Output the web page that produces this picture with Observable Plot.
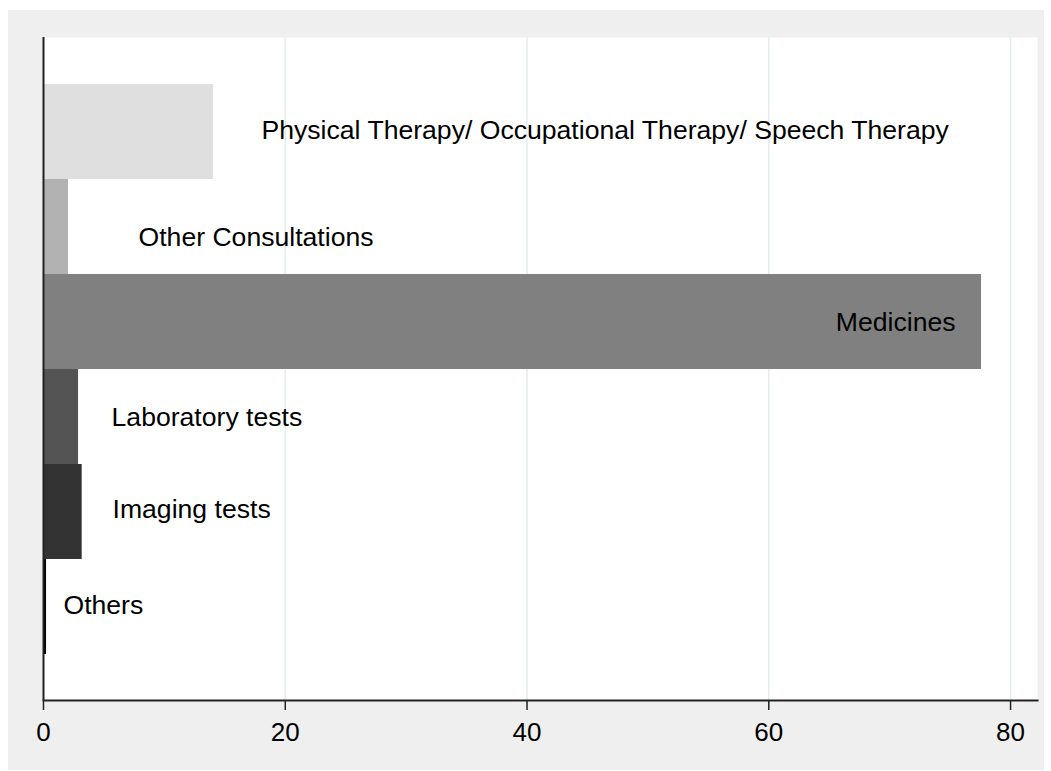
<!DOCTYPE html>
<html>
<head>
<meta charset="utf-8">
<script src="https://cdn.jsdelivr.net/npm/d3@7"></script>
<script src="https://cdn.jsdelivr.net/npm/@observablehq/plot@0.6"></script>
<style>
  body { margin: 0; background: #ffffff; }
  #chart { position: absolute; left: 8px; top: 10px; }
  #chart svg { display: block; background: #efefef; }
</style>
</head>
<body>
<div id="chart"></div>
<script>
// ---- data ----
const categories = [
  "Physical Therapy/ Occupational Therapy/ Speech Therapy",
  "Other Consultations",
  "Medicines",
  "Laboratory tests",
  "Imaging tests",
  "Others"
];
const values = [14.06, 2.07, 77.6, 2.9, 3.2, 0.25];
// label anchor positions along the x axis (data units)
const labelX = [18.03, 7.86, 75.45, 5.63, 5.71, 1.65];
const xTicks = [0, 20, 40, 60, 80];

const rows = categories.map((c, i) => ({category: c, value: values[i], lx: labelX[i]}));

const font = "'Liberation Sans', Arial, Helvetica, sans-serif";
const labelDy = {"Other Consultations": 10, "Imaging tests": -3, "Physical Therapy/ Occupational Therapy/ Speech Therapy": -2, "Others": -2};
const endAnchored = new Set(["Medicines"]);

const textMarks = rows.map(r => Plot.text([r], {
  x: "lx", y: "category", text: "category",
  textAnchor: endAnchored.has(r.category) ? "end" : "start",
  dy: labelDy[r.category] || 0,
  fill: "black", fontSize: 26.6
}));

const chart = Plot.plot({
  width: 1036,
  height: 760,
  marginLeft: 35,
  marginRight: 7,
  marginTop: 27,
  marginBottom: 70,
  style: {fontFamily: font, background: "#efefef", overflow: "visible"},
  x: {domain: [0, 82.23], ticks: xTicks},
  y: {domain: categories, paddingInner: 0, paddingOuter: 0.477, axis: null},
  color: {domain: categories, range: ["#dfdfdf", "#b2b2b2", "#808080", "#545454", "#333333", "#000000"]},
  marks: [
    Plot.frame({fill: "white", stroke: null}),
    Plot.gridX(xTicks.filter(d => d > 0), {stroke: "#e4ecee", strokeOpacity: 1, strokeWidth: 1.5}),
    Plot.barX(rows, {x: "value", y: "category", fill: "category", insetTop: 0, insetBottom: 0}),
    ...textMarks,
    Plot.ruleX([0], {stroke: "#222", strokeWidth: 2}),
    Plot.frame({anchor: "bottom", stroke: "#222", strokeWidth: 2}),
    Plot.axisX(xTicks, {anchor: "bottom", tickSize: 10, tickPadding: 12, fontSize: 26, stroke: "#222", strokeWidth: 1.5, fill: "black", label: null})
  ]
});
document.getElementById("chart").appendChild(chart);
</script>
</body>
</html>
